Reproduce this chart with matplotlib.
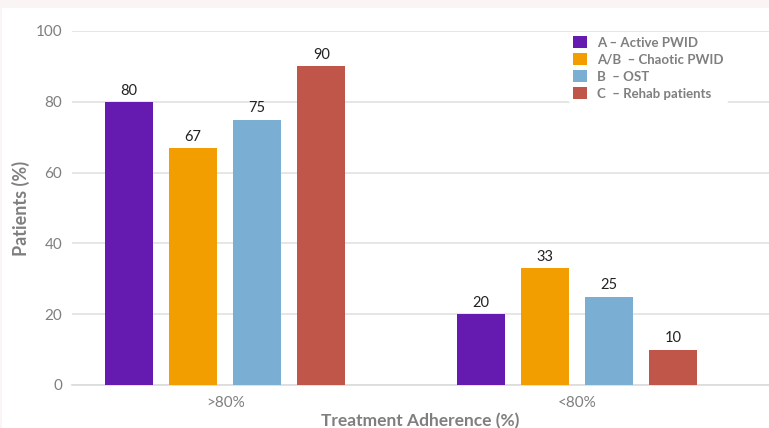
import numpy as np
import matplotlib
matplotlib.use("Agg")
import matplotlib.pyplot as plt
from matplotlib.patches import Rectangle

plt.rcParams['font.family'] = ['Lato', 'DejaVu Sans']

groups = ['>80%', '<80%']
series = ['A – Active PWID', 'A/B  – Chaotic PWID', 'B  – OST', 'C  – Rehab patients']
values = [
    [80, 20],
    [67, 33],
    [75, 25],
    [90, 10],
]
colors = ['#651bb0', '#f29d00', '#7aaed3', '#c0564a']
gray = '#7f7f7f'

fig = plt.figure(figsize=(7.69, 4.28), dpi=100)
fig.patch.set_facecolor('white')
# pink band along the top and a thin strip on the left
fig.patches.append(Rectangle((0, 1 - 8 / 428), 1, 8 / 428, transform=fig.transFigure,
                             facecolor='#fbf4f4', edgecolor='none', zorder=0))
fig.patches.append(Rectangle((0, 0), 2 / 769, 1, transform=fig.transFigure,
                             facecolor='#fbf4f4', edgecolor='none', zorder=0))

ax = fig.add_axes([72 / 769, 43 / 428, 1 - 72 / 769, 354 / 428])

x = np.arange(len(groups))
step = 0.182
width = 0.136
for i, (name, vals, c) in enumerate(zip(series, values, colors)):
    pos = x + (i - 1.5) * step
    bars = ax.bar(pos, vals, width, color=c, label=name, zorder=3)
    for b, v in zip(bars, vals):
        ax.text(b.get_x() + b.get_width() / 2, v + 1.2, str(v), ha='center', va='bottom',
                fontsize=10.5, color='#222222', zorder=4)

ax.set_xlim(-0.435, 1.545)
ax.set_ylim(0, 100)
ax.set_yticks(range(0, 101, 20))
ax.set_xticks(x)
ax.set_xticklabels(groups)
ax.yaxis.grid(True, color='#e2e2e2', linewidth=1.2, zorder=0)
ax.tick_params(axis='both', length=0, colors=gray, labelsize=11)
ax.tick_params(axis='y', pad=7)
ax.tick_params(axis='x', pad=8)
for s in ['top', 'right', 'left']:
    ax.spines[s].set_visible(False)
ax.spines['bottom'].set_color('#dcdcdc')
ax.spines['bottom'].set_linewidth(1.2)

ax.set_ylabel('Patients (%)', fontsize=13, fontweight='bold', color=gray, labelpad=4)
ax.set_xlabel('Treatment Adherence (%)', fontsize=12.5, fontweight='bold', color=gray, labelpad=2)

leg = ax.legend(loc='upper right', bbox_to_anchor=(0.95, 1.015), frameon=True, fontsize=9.5,
                handlelength=1.0, handleheight=1.0, handletextpad=0.8, labelspacing=0.35,
                borderpad=0.3)
leg.get_frame().set_facecolor('white')
leg.get_frame().set_edgecolor('none')
leg.get_frame().set_alpha(1)
for t in leg.get_texts():
    t.set_color(gray)
    t.set_fontweight('bold')

fig.savefig('out.png', dpi=100)
